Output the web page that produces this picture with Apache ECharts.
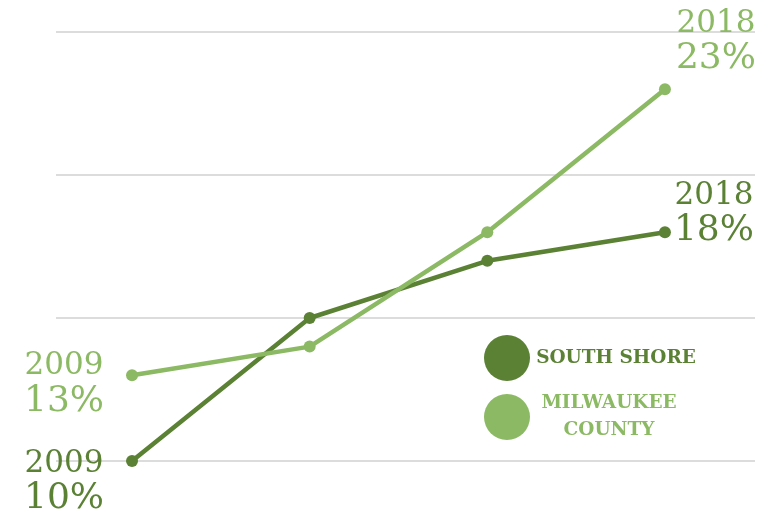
<!DOCTYPE html>
<html>
<head>
<meta charset="utf-8">
<script src="https://cdn.jsdelivr.net/npm/echarts@6/dist/echarts.min.js"></script>
<style>
html,body{margin:0;padding:0;background:#fff;}
#chart{width:770px;height:517px;}
</style>
</head>
<body>
<div id="chart"></div>
<script>
var categories = ['2009', '2012', '2015', '2018'];
var southShore = [10, 15, 17, 18];
var milwaukeeCounty = [13, 14, 18, 23];
var seriesNames = ['SOUTH SHORE', 'MILWAUKEE COUNTY'];
var yTicks = [10, 15, 20, 25];

var DARK = '#5b8135';
var LIGHT = '#8cb963';
var SERIF = '"DejaVu Serif", "Liberation Serif", serif';

function endLabel(year, val, color, offset) {
  return {
    show: true,
    position: 'inside',
    align: 'center',
    verticalAlign: 'middle',
    offset: offset,
    formatter: '{y|' + year + '}\n{p|' + val + '%}',
    rich: {
      y: { fontFamily: SERIF, fontSize: 31, lineHeight: 33, color: color },
      p: { fontFamily: SERIF, fontSize: 36, lineHeight: 37, color: color }
    }
  };
}

function buildData(values, color, offFirst, offLast) {
  return values.map(function (v, i) {
    var item = { value: [i, v] };
    if (i === 0) item.label = endLabel(categories[0], v, color, offFirst);
    if (i === values.length - 1) item.label = endLabel(categories[values.length - 1], v, color, offLast);
    return item;
  });
}

var chart = echarts.init(document.getElementById('chart'));
chart.setOption({
  animation: false,
  backgroundColor: '#ffffff',
  grid: { left: 56, right: 15, top: 32, bottom: 56 },
  xAxis: {
    type: 'value',
    min: -0.428,
    max: 3.507,
    show: false
  },
  yAxis: {
    type: 'value',
    min: yTicks[0],
    max: yTicks[yTicks.length - 1],
    interval: 5,
    axisLine: { show: false },
    axisTick: { show: false },
    axisLabel: { show: false },
    splitLine: { lineStyle: { color: '#dcdcdc', width: 2 } }
  },
  legend: {
    orient: 'vertical',
    left: 479,
    top: 330,
    icon: 'circle',
    itemWidth: 46,
    itemHeight: 46,
    itemGap: 13,
    selectedMode: false,
    data: [
      { name: seriesNames[0], textStyle: { color: DARK } },
      { name: seriesNames[1], textStyle: { color: LIGHT } }
    ],
    formatter: function (name) {
      if (name === seriesNames[1]) return '{l|MILWAUKEE}\n{l|COUNTY}';
      return '{d|' + name + '}';
    },
    textStyle: {
      padding: [0, 0, 0, 3],
      rich: {
        d: { fontFamily: SERIF, fontSize: 18.5, fontWeight: 'bold', lineHeight: 27, width: 156, align: 'center', color: DARK },
        l: { fontFamily: SERIF, fontSize: 18.5, fontWeight: 'bold', lineHeight: 27, width: 142, align: 'center', color: LIGHT }
      }
    }
  },
  series: [
    {
      name: seriesNames[0],
      type: 'line',
      data: buildData(southShore, DARK, [-68, 21], [49, -18]),
      symbol: 'circle',
      symbolSize: 12,
      itemStyle: { color: DARK },
      lineStyle: { color: DARK, width: 4.5 },
      z: 2
    },
    {
      name: seriesNames[1],
      type: 'line',
      data: buildData(milwaukeeCounty, LIGHT, [-68, 9.5], [51, -47]),
      symbol: 'circle',
      symbolSize: 12,
      itemStyle: { color: LIGHT },
      lineStyle: { color: LIGHT, width: 4.5 },
      z: 3
    }
  ]
});
</script>
</body>
</html>
